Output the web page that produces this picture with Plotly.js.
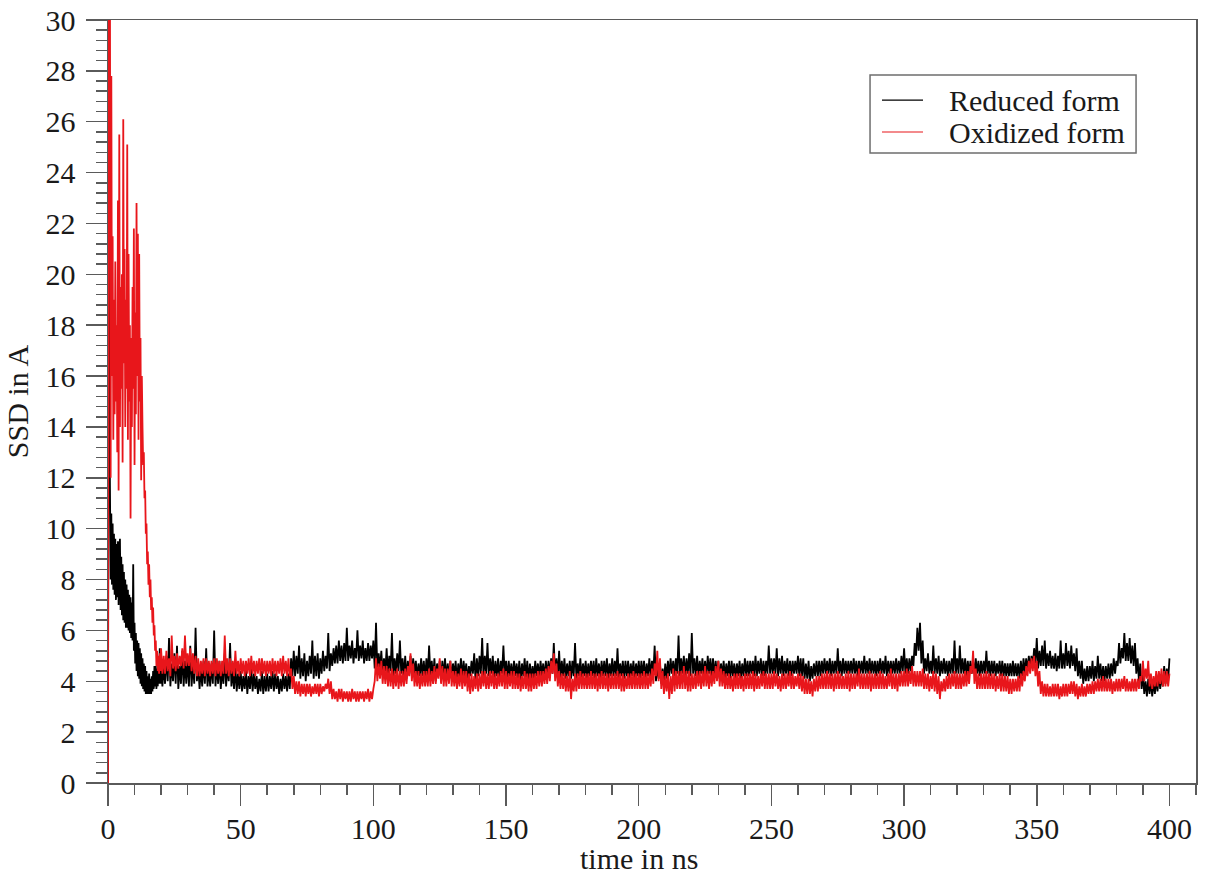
<!DOCTYPE html>
<html>
<head>
<meta charset="utf-8">
<script src="https://cdn.plot.ly/plotly-3.0.1.min.js"></script>
<style>
  html, body { margin: 0; padding: 0; background: #ffffff; }
  #chart { width: 1205px; height: 875px; }
</style>
</head>
<body>
<div id="chart"></div>
<script>
// ---- sample times (ns) ----
// 0 .. 20 ns: one reading every 0.25 ns
// 20.5 .. 400 ns: readings every 0.5 ns; the noisy band is read as its lower
// edge at the half-ns samples (20.5, 21.5, ...) and its upper edge / spikes at
// the whole-ns samples (21, 22, ...).
const timeEarly = Array.from({length: 81}, (_, i) => i * 0.25);
const timeBandLow = Array.from({length: 380}, (_, i) => 20.5 + i);
const timeBandHigh = Array.from({length: 380}, (_, i) => 21 + i);

// ================= Reduced form (black), SSD in A =================
const reducedEarly = [
  0, 24, 15, 11.2, 8.0, 10.6, 7.8, 10.2, 7.6, 9.8,
  7.4, 9.6, 7.2, 9.4, 7.3, 9.5, 7.0, 9.0, 9.6, 6.8,
  8.9, 6.6, 8.6, 6.4, 8.3, 6.3, 8.0, 6.1, 7.8, 6.1,
  7.6, 6.0, 7.4, 5.9, 7.3, 5.7, 7.1, 5.6, 8.6, 5.2,
  6.3, 4.7, 5.9, 4.4, 5.6, 4.2, 5.5, 4.1, 5.3, 3.9,
  5.1, 3.8, 4.9, 3.7, 4.7, 3.6, 4.6, 3.5, 4.4, 3.5,
  4.2, 3.5, 4.3, 3.5, 4.1, 3.5, 4.2, 3.6, 4.4, 3.7,
  4.6, 3.8, 4.6, 3.7, 4.5, 3.8, 4.8, 3.9, 5.3, 3.9,
  4.6
];
// upper edge of the band, t = 21 .. 400 ns
const reducedHigh = [
  4.6, 5.0, 5.7, 4.7, 5.1, 5.4, 4.6, 5.2, 4.8, 4.9,   // 21-30
  5.4, 4.7, 6.1, 4.6, 4.5, 4.8, 5.3, 4.5, 4.7, 6.0,   // 31-40
  4.6, 4.8, 4.5, 5.1, 4.6, 5.5, 4.4, 4.6, 4.3, 4.4,   // 41-50
  4.2, 4.4, 4.2, 4.5, 4.3, 4.2, 4.1, 4.4, 4.2, 4.3,   // 51-60
  4.2, 4.4, 4.3, 4.2, 4.1, 4.3, 4.2, 4.3, 4.9, 5.2,   // 61-70
  5.0, 5.4, 4.9, 5.1, 4.8, 5.0, 5.6, 5.0, 5.1, 4.9,   // 71-80
  5.2, 5.0, 5.9, 5.1, 5.3, 5.4, 5.6, 5.4, 5.5, 6.1,   // 81-90
  5.4, 5.6, 5.3, 6.0, 5.4, 5.6, 5.3, 5.5, 5.4, 5.6,   // 91-100
  6.3, 5.1, 5.2, 4.9, 5.3, 5.0, 5.9, 4.9, 5.1, 5.6,   // 101-110
  4.9, 5.0, 4.8, 5.0, 4.9, 4.8, 4.7, 4.9, 4.8, 4.9,   // 111-120
  5.4, 4.8, 4.9, 4.7, 4.8, 4.8, 4.9, 4.7, 4.8, 4.7,   // 121-130
  4.8, 4.7, 4.9, 4.8, 4.7, 4.6, 4.8, 5.1, 4.9, 5.0,   // 131-140
  5.7, 5.0, 5.5, 4.9, 5.0, 4.8, 4.9, 4.8, 5.4, 4.8,   // 141-150
  4.8, 4.7, 4.8, 4.7, 4.8, 4.7, 4.9, 4.8, 4.7, 4.6,   // 151-160
  4.8, 4.7, 4.8, 4.7, 4.8, 4.8, 4.9, 5.5, 4.9, 5.2,   // 161-170
  4.8, 4.9, 4.7, 4.8, 4.8, 5.5, 4.7, 4.9, 4.7, 4.8,   // 171-180
  4.7, 4.8, 4.8, 4.9, 4.7, 4.8, 4.8, 4.9, 4.7, 4.9,   // 181-190
  4.8, 5.3, 4.7, 4.8, 4.8, 4.8, 4.7, 4.8, 4.7, 4.8,   // 191-200
  4.8, 4.8, 4.7, 4.9, 4.8, 5.4, 4.6, 4.7, 4.5, 4.7,   // 201-210
  4.8, 4.9, 4.8, 4.9, 5.8, 4.9, 5.0, 4.9, 5.1, 5.9,   // 211-220
  4.9, 5.0, 4.8, 4.9, 4.8, 5.0, 4.9, 4.9, 4.8, 4.8,   // 221-230
  4.7, 4.8, 4.7, 4.8, 4.8, 4.7, 4.7, 4.8, 4.7, 4.9,   // 231-240
  4.8, 4.8, 4.8, 5.0, 4.8, 4.9, 4.8, 4.8, 5.4, 4.9,   // 241-250
  4.9, 5.3, 4.9, 5.0, 4.8, 4.9, 4.8, 4.8, 4.8, 5.0,   // 251-260
  4.9, 4.9, 4.7, 4.8, 4.6, 4.7, 4.8, 4.8, 4.8, 4.9,   // 261-270
  4.8, 4.9, 4.8, 4.8, 5.3, 4.8, 4.9, 4.8, 4.8, 4.8,   // 271-280
  4.9, 4.8, 4.8, 4.8, 5.0, 4.8, 4.9, 4.8, 4.8, 4.8,   // 281-290
  4.9, 4.8, 5.0, 4.8, 4.8, 4.8, 4.9, 4.8, 5.0, 5.3,   // 291-300
  4.9, 4.9, 5.0, 5.5, 6.1, 6.3, 5.6, 4.9, 5.1, 4.8,   // 301-310
  5.4, 4.9, 5.0, 4.8, 4.9, 4.8, 4.8, 4.9, 5.6, 4.9,   // 311-320
  5.4, 4.9, 4.9, 4.8, 4.8, 4.8, 4.9, 4.8, 4.8, 4.8,   // 321-330
  5.2, 4.8, 4.8, 4.8, 4.7, 4.8, 4.8, 4.7, 4.7, 4.7,   // 331-340
  4.8, 4.7, 4.7, 4.8, 4.9, 4.9, 5.0, 5.0, 5.3, 5.7,   // 341-350
  5.2, 5.4, 5.6, 5.1, 5.2, 5.0, 5.1, 5.0, 5.6, 5.1,   // 351-360
  5.5, 5.2, 5.4, 5.1, 5.3, 4.8, 4.8, 4.5, 4.6, 4.6,   // 361-370
  4.8, 4.6, 5.0, 4.7, 4.6, 4.6, 4.7, 4.7, 4.9, 4.8,   // 371-380
  5.5, 5.3, 5.9, 5.5, 5.7, 5.4, 5.5, 4.9, 4.7, 4.3,   // 381-390
  4.0, 4.1, 4.0, 4.0, 4.1, 4.3, 4.2, 4.6, 4.5, 4.9    // 391-400
];
// lower edge of the band, t = 20.5 .. 399.5 ns
const reducedLow = [
  3.8, 3.9, 4.0, 3.8, 4.0, 3.9, 3.7, 3.9, 3.8, 3.9,   // 20.5-29.5
  3.8, 3.8, 3.9, 4.0, 3.7, 3.8, 3.9, 3.8, 3.8, 3.9,   // 30.5-39.5
  3.8, 3.9, 3.7, 3.9, 3.8, 4.0, 3.8, 3.7, 3.6, 3.7,   // 40.5-49.5
  3.6, 3.7, 3.5, 3.7, 3.6, 3.7, 3.5, 3.6, 3.5, 3.6,   // 50.5-59.5
  3.6, 3.7, 3.6, 3.7, 3.5, 3.6, 3.7, 3.6, 3.7, 4.2,   // 60.5-69.5
  4.2, 4.3, 4.1, 4.2, 4.0, 4.2, 4.3, 4.1, 4.2, 4.1,   // 70.5-79.5
  4.3, 4.4, 4.5, 4.4, 4.6, 4.7, 4.7, 4.8, 4.7, 4.8,   // 80.5-89.5
  4.8, 4.9, 4.7, 4.9, 4.8, 4.9, 4.7, 4.8, 4.8, 4.9,   // 90.5-99.5
  4.5, 4.4, 4.5, 4.3, 4.4, 4.3, 4.4, 4.2, 4.3, 4.4,   // 100.5-109.5
  4.3, 4.2, 4.1, 4.3, 4.2, 4.3, 4.1, 4.2, 4.2, 4.1,   // 110.5-119.5
  4.2, 4.2, 4.1, 4.0, 4.2, 4.1, 4.2, 4.1, 4.2, 4.1,   // 120.5-129.5
  4.2, 4.0, 4.2, 4.1, 4.2, 4.0, 4.2, 4.3, 4.0, 4.2,   // 130.5-139.5
  4.3, 4.2, 4.3, 4.2, 4.3, 4.1, 4.2, 4.1, 4.3, 4.2,   // 140.5-149.5
  4.1, 4.2, 4.1, 4.2, 4.1, 4.0, 4.2, 4.1, 4.0, 4.1,   // 150.5-159.5
  4.1, 4.2, 4.1, 4.2, 4.1, 4.2, 4.3, 4.3, 4.2, 4.2,   // 160.5-169.5
  4.1, 4.2, 4.1, 4.2, 4.1, 4.2, 4.1, 4.2, 4.1, 4.2,   // 170.5-179.5
  4.1, 4.2, 4.2, 4.1, 4.2, 4.1, 4.2, 4.2, 4.1, 4.2,   // 180.5-189.5
  4.2, 4.2, 4.1, 4.2, 4.1, 4.2, 4.1, 4.2, 4.1, 4.2,   // 190.5-199.5
  4.1, 4.2, 4.1, 4.2, 4.2, 4.3, 4.0, 4.1, 3.9, 4.0,   // 200.5-209.5
  4.1, 4.2, 4.3, 4.2, 4.3, 4.2, 4.3, 4.2, 4.3, 4.2,   // 210.5-219.5
  4.3, 4.2, 4.2, 4.3, 4.2, 4.2, 4.3, 4.2, 4.2, 4.2,   // 220.5-229.5
  4.1, 4.2, 4.1, 4.2, 4.1, 4.2, 4.1, 4.2, 4.1, 4.2,   // 230.5-239.5
  4.2, 4.2, 4.3, 4.2, 4.2, 4.3, 4.2, 4.2, 4.3, 4.3,   // 240.5-249.5
  4.3, 4.3, 4.2, 4.3, 4.2, 4.3, 4.2, 4.2, 4.3, 4.3,   // 250.5-259.5
  4.2, 4.2, 4.1, 4.1, 4.0, 4.1, 4.2, 4.2, 4.2, 4.3,   // 260.5-269.5
  4.3, 4.3, 4.2, 4.3, 4.3, 4.3, 4.2, 4.3, 4.3, 4.3,   // 270.5-279.5
  4.3, 4.3, 4.2, 4.3, 4.3, 4.3, 4.3, 4.3, 4.3, 4.2,   // 280.5-289.5
  4.3, 4.3, 4.3, 4.2, 4.3, 4.3, 4.3, 4.3, 4.3, 4.4,   // 290.5-299.5
  4.3, 4.3, 4.4, 4.6, 5.0, 5.2, 4.7, 4.3, 4.4, 4.3,   // 300.5-309.5
  4.3, 4.3, 4.3, 4.2, 4.3, 4.3, 4.2, 4.3, 4.3, 4.3,   // 310.5-319.5
  4.3, 4.3, 4.3, 4.2, 4.3, 4.3, 4.3, 4.3, 4.2, 4.3,   // 320.5-329.5
  4.3, 4.3, 4.2, 4.3, 4.2, 4.3, 4.2, 4.2, 4.2, 4.2,   // 330.5-339.5
  4.2, 4.2, 4.2, 4.1, 4.2, 4.3, 4.4, 4.5, 4.6, 4.7,   // 340.5-349.5
  4.5, 4.6, 4.6, 4.5, 4.6, 4.5, 4.5, 4.4, 4.5, 4.5,   // 350.5-359.5
  4.5, 4.6, 4.5, 4.6, 4.4, 4.2, 4.1, 3.9, 4.0, 4.0,   // 360.5-369.5
  4.1, 4.0, 4.1, 4.1, 4.0, 4.0, 4.1, 4.1, 4.2, 4.3,   // 370.5-379.5
  4.6, 4.7, 4.9, 4.8, 4.8, 4.7, 4.6, 4.3, 4.0, 3.7,   // 380.5-389.5
  3.5, 3.4, 3.5, 3.4, 3.5, 3.6, 3.7, 3.8, 3.9, 4.0    // 390.5-399.5
];

// ================= Oxidized form (red), SSD in A =================
const oxidizedEarly = [
  0, 30.5, 24, 30.2, 12.0, 27.8, 16, 21.5, 13.5, 19,
  14.5, 20.5, 15, 18, 13, 22.9, 11.5, 25.5, 14, 19.5,
  15.5, 20, 12.6, 26.1, 16.5, 21, 14, 19, 15.5, 25.1,
  13.5, 20.8, 15, 18, 10.4, 17.5, 14, 19.5, 15.5, 21.8,
  12.5, 18.5, 14.5, 22.8, 16, 21.6, 13.5, 20.8, 15, 17.5,
  11.9, 16, 14, 12.5, 13, 11.2, 11.5, 9.8, 10.2, 8.6,
  9.1, 7.8, 8.6, 7.3, 8.0, 6.8, 7.3, 6.3, 6.9, 5.8,
  6.2, 5.2, 5.6, 4.6, 5.2, 4.4, 5.0, 4.3, 5.1, 4.4,
  5.3
];
// upper edge of the band, t = 21 .. 400 ns
const oxidizedHigh = [
  5.0, 5.2, 4.9, 5.8, 5.0, 5.1, 5.0, 5.3, 5.8, 5.1,   // 21-30
  5.3, 5.1, 5.0, 4.9, 4.8, 4.9, 4.9, 4.8, 4.8, 4.9,   // 31-40
  4.9, 4.8, 4.8, 5.8, 4.9, 4.9, 4.8, 5.2, 4.8, 4.9,   // 41-50
  4.8, 4.8, 4.9, 5.0, 4.8, 4.8, 4.9, 4.9, 4.8, 4.8,   // 51-60
  4.8, 4.9, 4.8, 4.8, 4.9, 5.0, 4.8, 4.9, 4.5, 4.2,   // 61-70
  4.0, 4.0, 3.9, 3.9, 3.9, 3.9, 3.8, 3.9, 3.9, 3.9,   // 71-80
  3.8, 3.9, 4.1, 4.0, 3.7, 3.6, 3.7, 3.7, 3.6, 3.6,   // 81-90
  3.6, 3.7, 3.6, 3.6, 3.6, 3.6, 3.6, 3.7, 3.6, 3.7,   // 91-100
  4.9, 4.7, 4.8, 4.6, 4.6, 4.5, 4.5, 4.4, 4.5, 4.4,   // 101-110
  4.4, 4.5, 4.6, 5.1, 4.7, 4.4, 4.4, 4.3, 4.4, 4.4,   // 111-120
  4.5, 4.4, 4.6, 4.5, 4.9, 4.6, 4.5, 4.5, 4.8, 4.4,   // 121-130
  4.4, 4.3, 4.5, 4.4, 4.4, 4.3, 4.3, 4.2, 4.3, 4.3,   // 131-140
  4.4, 4.4, 4.3, 4.4, 4.4, 4.3, 4.3, 4.4, 4.5, 4.4,   // 141-150
  4.3, 4.4, 4.4, 4.3, 4.3, 4.2, 4.4, 4.3, 4.3, 4.3,   // 151-160
  4.3, 4.4, 4.4, 4.4, 4.5, 4.6, 4.8, 5.1, 4.7, 4.4,   // 161-170
  4.3, 4.3, 4.2, 4.4, 4.1, 4.3, 4.3, 4.4, 4.3, 4.3,   // 171-180
  4.3, 4.4, 4.3, 4.3, 4.3, 4.4, 4.3, 4.3, 4.3, 4.3,   // 181-190
  4.3, 4.4, 4.3, 4.3, 4.2, 4.3, 4.3, 4.4, 4.3, 4.3,   // 191-200
  4.3, 4.4, 4.3, 4.3, 4.5, 4.7, 5.2, 4.9, 4.4, 4.2,   // 201-210
  4.3, 4.2, 4.5, 4.4, 4.4, 4.4, 4.6, 4.4, 4.4, 4.3,   // 211-220
  4.3, 4.4, 4.4, 4.4, 4.6, 4.4, 4.4, 4.4, 4.6, 4.8,   // 221-230
  4.5, 4.4, 4.3, 4.3, 4.2, 4.3, 4.3, 4.3, 4.2, 4.3,   // 231-240
  4.3, 4.3, 4.4, 4.3, 4.2, 4.3, 4.4, 4.3, 4.3, 4.3,   // 241-250
  4.4, 4.3, 4.2, 4.3, 4.3, 4.3, 4.4, 4.3, 4.2, 4.3,   // 251-260
  4.3, 4.2, 4.1, 4.1, 4.0, 4.1, 4.2, 4.2, 4.3, 4.3,   // 261-270
  4.4, 4.3, 4.3, 4.3, 4.4, 4.3, 4.2, 4.3, 4.4, 4.3,   // 271-280
  4.3, 4.3, 4.5, 4.3, 4.3, 4.3, 4.4, 4.3, 4.3, 4.3,   // 281-290
  4.4, 4.3, 4.2, 4.3, 4.5, 4.3, 4.3, 4.3, 4.4, 4.4,   // 291-300
  4.5, 4.4, 4.6, 4.4, 4.4, 4.4, 4.5, 4.3, 4.3, 4.2,   // 301-310
  4.4, 4.3, 4.2, 4.0, 4.1, 4.2, 4.3, 4.3, 4.4, 4.3,   // 311-320
  4.3, 4.3, 4.4, 4.4, 4.6, 5.2, 4.5, 4.3, 4.3, 4.3,   // 321-330
  4.4, 4.3, 4.3, 4.3, 4.2, 4.3, 4.3, 4.2, 4.2, 4.1,   // 331-340
  4.1, 4.1, 4.2, 4.3, 4.4, 4.6, 4.8, 4.9, 5.0, 4.8,   // 341-350
  4.4, 4.0, 3.9, 3.9, 3.8, 3.9, 3.9, 3.9, 3.8, 3.9,   // 351-360
  3.9, 3.9, 4.0, 4.0, 3.9, 3.8, 3.9, 3.8, 3.9, 3.9,   // 361-370
  4.0, 4.0, 4.1, 4.1, 4.2, 4.1, 4.1, 4.1, 4.0, 4.1,   // 371-380
  4.1, 4.1, 4.2, 4.1, 4.0, 4.1, 4.1, 4.1, 4.2, 4.8,   // 381-390
  4.5, 4.8, 4.3, 4.2, 4.4, 4.4, 4.5, 4.4, 4.4, 4.3    // 391-400
];
// lower edge of the band, t = 20.5 .. 399.5 ns
const oxidizedLow = [
  4.3, 4.3, 4.4, 4.2, 4.5, 4.4, 4.5, 4.6, 4.5, 4.6,   // 20.5-29.5
  4.6, 4.4, 4.3, 4.2, 4.2, 4.3, 4.2, 4.3, 4.2, 4.3,   // 30.5-39.5
  4.2, 4.3, 4.2, 4.3, 4.3, 4.2, 4.3, 4.2, 4.3, 4.2,   // 40.5-49.5
  4.3, 4.2, 4.3, 4.2, 4.3, 4.2, 4.3, 4.2, 4.3, 4.2,   // 50.5-59.5
  4.3, 4.2, 4.3, 4.2, 4.3, 4.2, 4.3, 4.2, 4.2, 3.7,   // 60.5-69.5
  3.5, 3.5, 3.4, 3.5, 3.4, 3.5, 3.4, 3.5, 3.5, 3.4,   // 70.5-79.5
  3.5, 3.6, 3.7, 3.5, 3.3, 3.3, 3.2, 3.3, 3.2, 3.3,   // 80.5-89.5
  3.2, 3.2, 3.3, 3.2, 3.2, 3.3, 3.2, 3.3, 3.2, 3.3,   // 90.5-99.5
  4.0, 4.0, 4.1, 3.9, 3.9, 3.8, 3.8, 3.7, 3.8, 3.7,   // 100.5-109.5
  3.8, 3.8, 3.9, 4.2, 4.0, 3.8, 3.8, 3.7, 3.8, 3.8,   // 110.5-119.5
  3.8, 3.8, 3.9, 3.9, 4.1, 3.9, 3.8, 3.8, 3.9, 3.8,   // 120.5-129.5
  3.8, 3.7, 3.8, 3.7, 3.8, 3.6, 3.5, 3.6, 3.7, 3.6,   // 130.5-139.5
  3.7, 3.8, 3.7, 3.7, 3.8, 3.7, 3.7, 3.8, 3.8, 3.7,   // 140.5-149.5
  3.7, 3.8, 3.7, 3.7, 3.7, 3.6, 3.7, 3.7, 3.6, 3.6,   // 150.5-159.5
  3.7, 3.7, 3.8, 3.8, 3.9, 3.9, 4.0, 4.3, 4.0, 3.8,   // 160.5-169.5
  3.7, 3.7, 3.6, 3.6, 3.3, 3.6, 3.6, 3.7, 3.7, 3.7,   // 170.5-179.5
  3.7, 3.7, 3.7, 3.7, 3.6, 3.7, 3.7, 3.7, 3.6, 3.7,   // 180.5-189.5
  3.7, 3.7, 3.7, 3.6, 3.6, 3.7, 3.7, 3.7, 3.7, 3.7,   // 190.5-199.5
  3.7, 3.7, 3.7, 3.7, 3.8, 3.9, 4.2, 4.0, 3.7, 3.5,   // 200.5-209.5
  3.6, 3.3, 3.5, 3.6, 3.7, 3.7, 3.7, 3.7, 3.6, 3.6,   // 210.5-219.5
  3.7, 3.7, 3.8, 3.7, 3.8, 3.8, 3.7, 3.8, 3.9, 4.0,   // 220.5-229.5
  3.8, 3.8, 3.7, 3.7, 3.7, 3.6, 3.7, 3.7, 3.7, 3.6,   // 230.5-239.5
  3.7, 3.7, 3.7, 3.6, 3.7, 3.7, 3.8, 3.7, 3.7, 3.7,   // 240.5-249.5
  3.7, 3.8, 3.7, 3.6, 3.7, 3.7, 3.8, 3.7, 3.7, 3.8,   // 250.5-259.5
  3.7, 3.6, 3.5, 3.5, 3.5, 3.4, 3.6, 3.6, 3.7, 3.7,   // 260.5-269.5
  3.7, 3.7, 3.7, 3.6, 3.7, 3.7, 3.7, 3.7, 3.7, 3.6,   // 270.5-279.5
  3.7, 3.7, 3.8, 3.7, 3.7, 3.7, 3.7, 3.6, 3.7, 3.7,   // 280.5-289.5
  3.7, 3.7, 3.7, 3.7, 3.8, 3.7, 3.7, 3.6, 3.8, 3.8,   // 290.5-299.5
  3.8, 3.8, 3.9, 3.8, 3.8, 3.8, 3.8, 3.7, 3.7, 3.6,   // 300.5-309.5
  3.7, 3.6, 3.5, 3.3, 3.6, 3.6, 3.7, 3.7, 3.8, 3.7,   // 310.5-319.5
  3.7, 3.7, 3.8, 3.8, 3.9, 4.3, 3.9, 3.7, 3.7, 3.7,   // 320.5-329.5
  3.7, 3.7, 3.7, 3.7, 3.6, 3.7, 3.6, 3.6, 3.6, 3.5,   // 330.5-339.5
  3.5, 3.6, 3.6, 3.6, 3.8, 4.0, 4.2, 4.3, 4.4, 4.2,   // 340.5-349.5
  3.8, 3.5, 3.4, 3.4, 3.4, 3.4, 3.4, 3.4, 3.3, 3.4,   // 350.5-359.5
  3.4, 3.4, 3.5, 3.5, 3.4, 3.3, 3.4, 3.4, 3.4, 3.5,   // 360.5-369.5
  3.5, 3.5, 3.6, 3.6, 3.6, 3.6, 3.6, 3.6, 3.5, 3.6,   // 370.5-379.5
  3.6, 3.6, 3.7, 3.6, 3.6, 3.6, 3.6, 3.6, 3.7, 4.0,   // 380.5-389.5
  4.0, 4.1, 3.8, 3.7, 3.8, 3.8, 3.9, 3.8, 3.8, 3.8    // 390.5-399.5
];

const seriesNames = ['Reduced form', 'Oxidized form'];
const seriesColors = ['#000000', '#e8161b'];
const xTitle = 'time in ns';
const yTitle = 'SSD in A';

// assemble one time series from the early readings and the band readings (in time order)
function assemble(early, low, high) {
  const x = timeEarly.slice();
  const y = early.slice();
  for (let i = 0; i < low.length; i++) {
    x.push(timeBandLow[i]);  y.push(low[i]);
    x.push(timeBandHigh[i]); y.push(high[i]);
  }
  return {x, y};
}

const FONT = 'Liberation Serif, "Times New Roman", Times, serif';
const AXIS_GREY = '#5a5a5a';
const TEXT = '#1a1a1a';

const red = assemble(oxidizedEarly, oxidizedLow, oxidizedHigh);
const blk = assemble(reducedEarly, reducedLow, reducedHigh);

const traces = [
  {
    x: blk.x, y: blk.y,
    name: seriesNames[0],
    type: 'scatter', mode: 'lines',
    line: {color: seriesColors[0], width: 1.8}
  },
  {
    x: red.x, y: red.y,
    name: seriesNames[1],
    type: 'scatter', mode: 'lines',
    line: {color: seriesColors[1], width: 1.8}
  }
];

// hand-placed legend box (paper coordinates) matching the reference
const legendBox = {x0: 0.7004, x1: 0.9449, y0: 0.8257, y1: 0.9279};
const legendRows = [0.8951, 0.8532];
const legendShapes = [{
  type: 'rect', xref: 'paper', yref: 'paper',
  x0: legendBox.x0, x1: legendBox.x1, y0: legendBox.y0, y1: legendBox.y1,
  line: {color: '#6e6e6e', width: 1.5}, fillcolor: '#ffffff', layer: 'above'
}];
const legendAnnotations = [];
seriesNames.forEach((name, i) => {
  legendShapes.push({
    type: 'line', xref: 'paper', yref: 'paper',
    x0: 0.7114, x1: 0.7491, y0: legendRows[i], y1: legendRows[i],
    line: {color: seriesColors[i], width: 1.2}, layer: 'above'
  });
  legendAnnotations.push({
    text: name, showarrow: false, xref: 'paper', yref: 'paper',
    x: 0.7711, y: legendRows[i], xanchor: 'left', yanchor: 'middle',
    font: {family: FONT, size: 30, color: TEXT}
  });
});

const layout = {
  width: 1205, height: 875,
  margin: {l: 108, r: 9, t: 20, b: 92, pad: 0},
  paper_bgcolor: '#ffffff', plot_bgcolor: '#ffffff',
  font: {family: FONT, size: 30, color: TEXT},
  showlegend: false,
  xaxis: {
    range: [0, 410], autorange: false,
    tick0: 0, dtick: 50,
    ticks: 'outside', ticklen: 21, tickwidth: 1.5, tickcolor: AXIS_GREY,
    ticklabelstandoff: -3,
    minor: {ticks: 'outside', ticklen: 10, tick0: 0, dtick: 10, tickwidth: 1.5, tickcolor: AXIS_GREY, showgrid: false},
    showline: true, linecolor: AXIS_GREY, linewidth: 1.5, mirror: true,
    showgrid: false, zeroline: false,
    tickfont: {family: FONT, size: 30, color: TEXT}
  },
  yaxis: {
    range: [0, 30], autorange: false,
    tick0: 0, dtick: 2,
    ticks: 'outside', ticklen: 21, tickwidth: 1.5, tickcolor: AXIS_GREY,
    ticklabelstandoff: 4,
    minor: {ticks: 'outside', ticklen: 11, tick0: 0, dtick: 0.4, tickwidth: 1.5, tickcolor: AXIS_GREY, showgrid: false},
    showline: true, linecolor: AXIS_GREY, linewidth: 1.5, mirror: true,
    showgrid: false, zeroline: false,
    tickfont: {family: FONT, size: 30, color: TEXT},
    title: {text: yTitle, font: {family: FONT, size: 30, color: TEXT}, standoff: 8},
    automargin: false
  },
  shapes: legendShapes,
  annotations: [{
    text: xTitle, showarrow: false,
    xref: 'x', x: 200, yref: 'paper', y: 0,
    xanchor: 'center', yanchor: 'middle', yshift: -75,
    font: {family: FONT, size: 30, color: TEXT}
  }].concat(legendAnnotations)
};

Plotly.newPlot('chart', traces, layout, {displayModeBar: false, staticPlot: true});
</script>
</body>
</html>
